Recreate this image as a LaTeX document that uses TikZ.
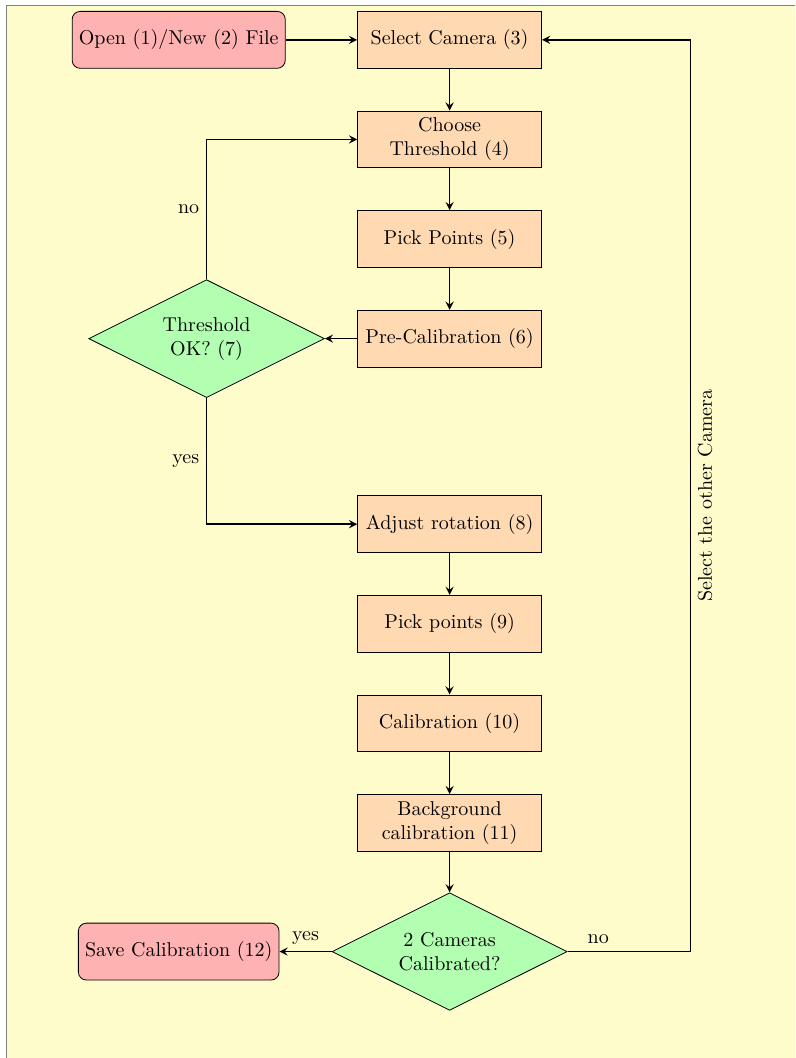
\documentclass[tikz,border=0pt]{standalone}
\usepackage{xcolor}
\usepackage{tikz}
\usetikzlibrary{shapes.geometric}

\tikzset{
  block/.style={rectangle, draw, fill=orange!30, text width=3cm, text centered, minimum height=1cm},
  startstop/.style={rectangle, draw, fill=red!30, rounded corners, minimum height=1cm},
  decision/.style={diamond, draw, fill=green!30, aspect=2, text width=5.5em, align=center, inner sep=3.33pt},
  line/.style={draw, thick, ->},
}

\begin{document}
\begin{tikzpicture}[>=stealth, node distance=1.75cm]
        % page
        \useasboundingbox (0,0) rectangle (13.97,-18.59);
        \fill[yellow!20] (0.12,-0.09) rectangle (13.97,-18.59);
        \draw[gray] (0.12,-18.59) |- (13.97,-0.09);
        % nodes
        \node[block] at (7.9,-0.7) (select) {Select Camera (3)};
        \node[startstop,left of=select,node distance=4.76cm] (open) {Open (1)/New (2) File};
        \node[block,below of=select] (choose) {Choose Threshold (4)};
        \node[block,below of=choose] (pick) {Pick Points (5)};
        \node[block,below of=pick] (precal) {Pre-Calibration (6)};
        \node[decision,left of=precal,node distance=4.27cm] (thresh) {Threshold OK? (7)};
        \node[block,below of=precal,node distance=3.26cm] (rotate) {Adjust rotation (8)};
        \node[block,below of=rotate] (pickb) {Pick points (9)};
        \node[block,below of=pickb] (calib) {Calibration (10)};
        \node[block,below of=calib] (backgr) {Background calibration (11)};
        \node[decision,below of=backgr,node distance=2.26cm,inner sep=4pt] (cams) {2 Cameras Calibrated?};
        \node[startstop,left of=cams,node distance=4.76cm] (save) {Save Calibration (12)};
        \coordinate (turn) at (12.13,-0.7);
        % edges
        \path[line] (open)--(select);
        \path[line] (select)--(choose);
        \path[line] (choose)--(pick);
        \path[line] (pick)--(precal);
        \path[line] (precal)--(thresh);
        \path[line] (thresh.north) |- node[left,pos=0.25] {no} (choose.west);
        \path[line] (thresh.south) |- node[left,pos=0.25] {yes} (rotate.west);
        \path[line] (rotate)--(pickb);
        \path[line] (pickb)--(calib);
        \path[line] (calib)--(backgr);
        \path[line] (backgr)--(cams);
        \path[line] (cams)-- node[above] {yes} (save);
        \path[line] (cams.east) -- node[above,pos=0.25] {no} (cams.east -| turn)
            |- node[rotate=90,anchor=north,pos=0.25] {Select the other Camera} (select.east);
      \end{tikzpicture}
\end{document}
